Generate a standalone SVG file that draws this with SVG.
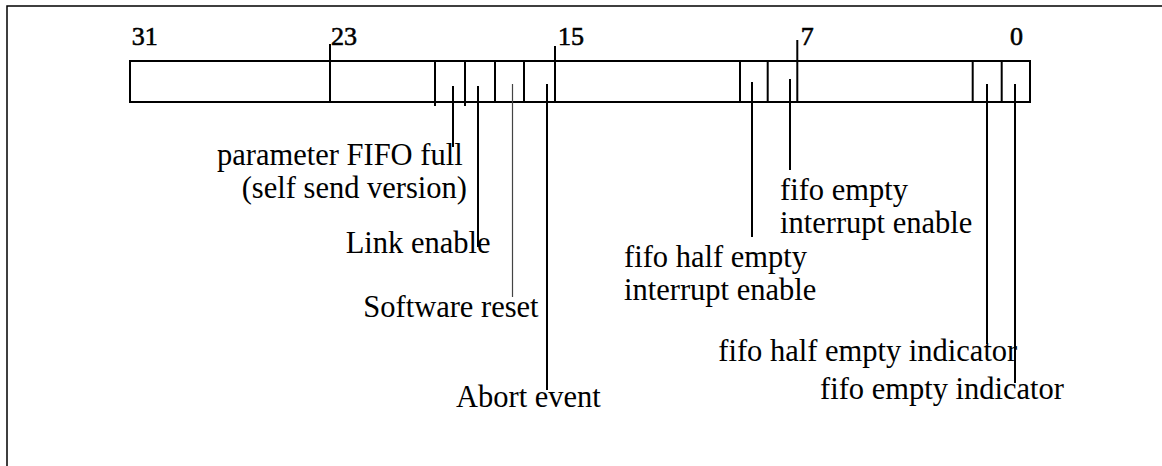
<svg xmlns="http://www.w3.org/2000/svg" width="1162" height="466" viewBox="0 0 1162 466">
<style>
.frame{fill:none;stroke:#000;stroke-width:1.5}
.reg{fill:#fff;stroke:#000;stroke-width:2}
.div{stroke:#000;stroke-width:2;fill:none}
.lead{stroke:#000;stroke-width:2;fill:none}
.lead-thin{stroke:#444;stroke-width:1.2;fill:none}
.num{font-family:"Liberation Serif","Times New Roman",serif;font-size:26px;fill:#000;stroke:#000;stroke-width:0.6}
.lbl{font-family:"Liberation Serif","Times New Roman",serif;font-size:30.5px;fill:#000}
</style>
<rect width="1162" height="466" fill="#fff"/>
<path class="frame" d="M7,466 V6 H1162"/>
<g id="register">
<rect class="reg" x="130" y="61" width="900" height="41"/>
<path class="div" d="M330,44 V102 M435,61 V106 M465,61 V106 M495,61 V102 M524,61 V102 M555,46 V102 M740,61 V102 M767.7,61 V102 M797.3,40 V102 M972.7,61 V102 M1001.7,61 V102"/>
</g>
<g id="bit-numbers">
<text class="num" x="131.7" y="45">31</text>
<text class="num" x="331" y="45">23</text>
<text class="num" x="558" y="45">15</text>
<text class="num" x="800.7" y="45">7</text>
<text class="num" x="1010" y="45">0</text>
</g>
<g id="connectors">
<path class="lead" d="M453,86 V147"/>
<path class="lead" d="M478,86 V247"/>
<path class="lead-thin" d="M512.5,84 V297"/>
<path class="lead" d="M547,84 V390"/>
<path class="lead" d="M752,82 V237"/>
<path class="lead" d="M790,79 V170"/>
<path class="lead" d="M987,84 V344"/>
<path class="lead" d="M1015,84 V383"/>
</g>
<g id="label-param-fifo-full">
<text class="lbl" x="217" y="165">parameter FIFO full</text>
<text class="lbl" x="241.7" y="198">(self send version)</text>
</g>
<g id="label-link-enable">
<text class="lbl" x="345.7" y="252.7">Link enable</text>
</g>
<g id="label-software-reset">
<text class="lbl" x="363.3" y="316.7">Software reset</text>
</g>
<g id="label-abort-event">
<text class="lbl" x="456" y="407.3">Abort event</text>
</g>
<g id="label-fifo-empty-ie">
<text class="lbl" x="780" y="200">fifo empty</text>
<text class="lbl" x="780" y="233.3">interrupt enable</text>
</g>
<g id="label-fifo-half-empty-ie">
<text class="lbl" x="624" y="266.7">fifo half empty</text>
<text class="lbl" x="624" y="300">interrupt enable</text>
</g>
<g id="label-fifo-half-empty-ind">
<text class="lbl" x="718.3" y="360.7">fifo half empty indicator</text>
</g>
<g id="label-fifo-empty-ind">
<text class="lbl" x="820" y="399.3">fifo empty indicator</text>
</g>
</svg>
